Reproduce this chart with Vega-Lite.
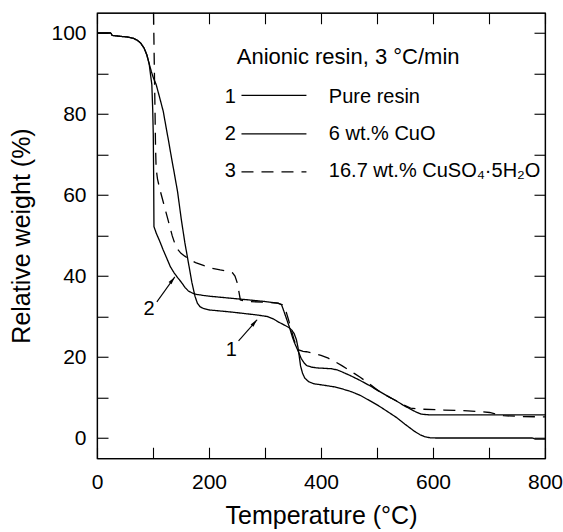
{
  "$schema": "https://vega.github.io/schema/vega-lite/v6.json",
  "width": 448,
  "height": 445.5,
  "autosize": "none",
  "padding": {"left": 97, "top": 12.75, "right": 18, "bottom": 73.75},
  "background": "white",
  "config": {
    "font": "Liberation Sans",
    "view": {"stroke": "black", "strokeWidth": 1.2},
    "axis": {
      "grid": false,
      "domainColor": "black",
      "domainWidth": 1.2,
      "tickColor": "black",
      "tickWidth": 1.1,
      "tickSize": -11,
      "labelColor": "black",
      "titleColor": "black",
      "labelFontSize": 21,
      "titleFontSize": 25,
      "titleFontWeight": "normal",
      "labelFlush": false,
      "labelOverlap": false
    }
  },
  "datasets": {
    "curves": [
      {"series": "1", "t": 0, "w": 100}, {"series": "1", "t": 10, "w": 100}, {"series": "1", "t": 25, "w": 100}, {"series": "1", "t": 27, "w": 99.4}, {"series": "1", "t": 40, "w": 99.2}, {"series": "1", "t": 55, "w": 99.0}, {"series": "1", "t": 65, "w": 98.7}, {"series": "1", "t": 72, "w": 98.2}, {"series": "1", "t": 78, "w": 97.5}, {"series": "1", "t": 84, "w": 96.3}, {"series": "1", "t": 89, "w": 94.6}, {"series": "1", "t": 93, "w": 92.5}, {"series": "1", "t": 97, "w": 90.5}, {"series": "1", "t": 101, "w": 88.8}, {"series": "1", "t": 105.6, "w": 87.3}, {"series": "1", "t": 112, "w": 84}, {"series": "1", "t": 118.4, "w": 80.6}, {"series": "1", "t": 123, "w": 77}, {"series": "1", "t": 128, "w": 73.2}, {"series": "1", "t": 133, "w": 69.2}, {"series": "1", "t": 137.6, "w": 65.7}, {"series": "1", "t": 144, "w": 60.7}, {"series": "1", "t": 150.4, "w": 54.1}, {"series": "1", "t": 156.8, "w": 48.3}, {"series": "1", "t": 163.2, "w": 43.3}, {"series": "1", "t": 169.6, "w": 38.3}, {"series": "1", "t": 175, "w": 35}, {"series": "1", "t": 179.2, "w": 33.3}, {"series": "1", "t": 184, "w": 32.4}, {"series": "1", "t": 190, "w": 32.0}, {"series": "1", "t": 201.6, "w": 31.6}, {"series": "1", "t": 225, "w": 31.3}, {"series": "1", "t": 246.4, "w": 31.0}, {"series": "1", "t": 265, "w": 30.7}, {"series": "1", "t": 284.8, "w": 30.4}, {"series": "1", "t": 304, "w": 30.0}, {"series": "1", "t": 315, "w": 29.4}, {"series": "1", "t": 323.2, "w": 28.7}, {"series": "1", "t": 333, "w": 28.0}, {"series": "1", "t": 342.4, "w": 27.3}, {"series": "1", "t": 348, "w": 26.6}, {"series": "1", "t": 352, "w": 25.8}, {"series": "1", "t": 356, "w": 24.3}, {"series": "1", "t": 359, "w": 22.3}, {"series": "1", "t": 361.5, "w": 19.8}, {"series": "1", "t": 363.5, "w": 17.8}, {"series": "1", "t": 367, "w": 16.0}, {"series": "1", "t": 371, "w": 14.8}, {"series": "1", "t": 378, "w": 13.9}, {"series": "1", "t": 387, "w": 13.4}, {"series": "1", "t": 406.4, "w": 13.0}, {"series": "1", "t": 425, "w": 12.6}, {"series": "1", "t": 438.4, "w": 12.1}, {"series": "1", "t": 455, "w": 11.4}, {"series": "1", "t": 470.4, "w": 10.5}, {"series": "1", "t": 486, "w": 9.3}, {"series": "1", "t": 502.4, "w": 8.0}, {"series": "1", "t": 518, "w": 6.6}, {"series": "1", "t": 534.4, "w": 5.1}, {"series": "1", "t": 550, "w": 3.4}, {"series": "1", "t": 566.4, "w": 1.7}, {"series": "1", "t": 577, "w": 0.8}, {"series": "1", "t": 585.6, "w": 0.3}, {"series": "1", "t": 595, "w": 0.05}, {"series": "1", "t": 604.8, "w": 0}, {"series": "1", "t": 777, "w": 0}, {"series": "1", "t": 784, "w": -0.3}, {"series": "1", "t": 800, "w": -0.3},
      {"series": "2", "t": 0, "w": 100}, {"series": "2", "t": 10, "w": 100}, {"series": "2", "t": 25, "w": 100}, {"series": "2", "t": 27, "w": 99.4}, {"series": "2", "t": 40, "w": 99.2}, {"series": "2", "t": 55, "w": 99.0}, {"series": "2", "t": 65, "w": 98.7}, {"series": "2", "t": 72, "w": 98.2}, {"series": "2", "t": 78, "w": 97.5}, {"series": "2", "t": 84, "w": 96.3}, {"series": "2", "t": 89, "w": 94.6}, {"series": "2", "t": 93, "w": 92.5}, {"series": "2", "t": 95.7, "w": 89.6}, {"series": "2", "t": 97.9, "w": 87.3}, {"series": "2", "t": 99.5, "w": 81}, {"series": "2", "t": 100.5, "w": 74.8}, {"series": "2", "t": 101.2, "w": 64}, {"series": "2", "t": 101.7, "w": 52.2}, {"series": "2", "t": 106, "w": 50.5}, {"series": "2", "t": 112, "w": 48.6}, {"series": "2", "t": 118, "w": 46.5}, {"series": "2", "t": 124.8, "w": 44.3}, {"series": "2", "t": 131, "w": 42.3}, {"series": "2", "t": 137.6, "w": 40.8}, {"series": "2", "t": 144, "w": 39.6}, {"series": "2", "t": 150.4, "w": 38.5}, {"series": "2", "t": 157, "w": 37.2}, {"series": "2", "t": 163.2, "w": 36.3}, {"series": "2", "t": 170, "w": 35.8}, {"series": "2", "t": 176, "w": 35.5}, {"series": "2", "t": 190, "w": 35.2}, {"series": "2", "t": 201.6, "w": 35.0}, {"series": "2", "t": 240, "w": 34.5}, {"series": "2", "t": 278.4, "w": 34.0}, {"series": "2", "t": 300, "w": 33.7}, {"series": "2", "t": 323, "w": 33.3}, {"series": "2", "t": 329.6, "w": 32.9}, {"series": "2", "t": 334, "w": 31.2}, {"series": "2", "t": 339, "w": 29.2}, {"series": "2", "t": 344, "w": 27.2}, {"series": "2", "t": 348.8, "w": 25.0}, {"series": "2", "t": 353, "w": 23.4}, {"series": "2", "t": 358.4, "w": 21.7}, {"series": "2", "t": 364.8, "w": 19.6}, {"series": "2", "t": 370, "w": 18.5}, {"series": "2", "t": 374.4, "w": 17.9}, {"series": "2", "t": 383, "w": 17.5}, {"series": "2", "t": 393.6, "w": 17.3}, {"series": "2", "t": 406, "w": 17.2}, {"series": "2", "t": 419, "w": 17.1}, {"series": "2", "t": 429, "w": 16.8}, {"series": "2", "t": 438, "w": 16.3}, {"series": "2", "t": 454, "w": 15.3}, {"series": "2", "t": 470, "w": 14.2}, {"series": "2", "t": 486, "w": 13.0}, {"series": "2", "t": 502, "w": 11.7}, {"series": "2", "t": 518, "w": 10.4}, {"series": "2", "t": 534, "w": 9.2}, {"series": "2", "t": 547, "w": 8.1}, {"series": "2", "t": 560, "w": 7.1}, {"series": "2", "t": 570, "w": 6.4}, {"series": "2", "t": 579, "w": 5.9}, {"series": "2", "t": 590, "w": 5.75}, {"series": "2", "t": 598, "w": 5.7}, {"series": "2", "t": 800, "w": 5.7},
      {"series": "3", "t": 101, "w": 105}, {"series": "3", "t": 102, "w": 95}, {"series": "3", "t": 103, "w": 86}, {"series": "3", "t": 103.7, "w": 80}, {"series": "3", "t": 104.5, "w": 72}, {"series": "3", "t": 105.6, "w": 66.5}, {"series": "3", "t": 108, "w": 64}, {"series": "3", "t": 112, "w": 61.5}, {"series": "3", "t": 118.4, "w": 58.2}, {"series": "3", "t": 124.8, "w": 54.9}, {"series": "3", "t": 130, "w": 52.2}, {"series": "3", "t": 134.4, "w": 49.9}, {"series": "3", "t": 139, "w": 48}, {"series": "3", "t": 144, "w": 46.6}, {"series": "3", "t": 150, "w": 45.6}, {"series": "3", "t": 156.8, "w": 44.9}, {"series": "3", "t": 165, "w": 44.1}, {"series": "3", "t": 176, "w": 43.3}, {"series": "3", "t": 190, "w": 42.6}, {"series": "3", "t": 201.6, "w": 42}, {"series": "3", "t": 220, "w": 41.5}, {"series": "3", "t": 233.6, "w": 41.2}, {"series": "3", "t": 242, "w": 40.8}, {"series": "3", "t": 246.4, "w": 40}, {"series": "3", "t": 250, "w": 38.5}, {"series": "3", "t": 252.8, "w": 36.6}, {"series": "3", "t": 256, "w": 34.1}, {"series": "3", "t": 262, "w": 33.9}, {"series": "3", "t": 272, "w": 33.7}, {"series": "3", "t": 300, "w": 33.5}, {"series": "3", "t": 323, "w": 33.3}, {"series": "3", "t": 331, "w": 32.9}, {"series": "3", "t": 336, "w": 32.0}, {"series": "3", "t": 339, "w": 30.6}, {"series": "3", "t": 342, "w": 29.2}, {"series": "3", "t": 347, "w": 26.6}, {"series": "3", "t": 352, "w": 24.2}, {"series": "3", "t": 356, "w": 22.8}, {"series": "3", "t": 361.6, "w": 21.7}, {"series": "3", "t": 368, "w": 21.4}, {"series": "3", "t": 374, "w": 21.3}, {"series": "3", "t": 387, "w": 20.9}, {"series": "3", "t": 400, "w": 20.4}, {"series": "3", "t": 413, "w": 19.7}, {"series": "3", "t": 425.6, "w": 18.8}, {"series": "3", "t": 438, "w": 17.8}, {"series": "3", "t": 451, "w": 16.7}, {"series": "3", "t": 460, "w": 15.9}, {"series": "3", "t": 470, "w": 15.0}, {"series": "3", "t": 486, "w": 13.4}, {"series": "3", "t": 502, "w": 11.7}, {"series": "3", "t": 518, "w": 10.4}, {"series": "3", "t": 534, "w": 9.2}, {"series": "3", "t": 547, "w": 8.2}, {"series": "3", "t": 560, "w": 7.4}, {"series": "3", "t": 570, "w": 7.2}, {"series": "3", "t": 582, "w": 7.1}, {"series": "3", "t": 620, "w": 6.9}, {"series": "3", "t": 662, "w": 6.7}, {"series": "3", "t": 685, "w": 6.5}, {"series": "3", "t": 701, "w": 6.3}, {"series": "3", "t": 715, "w": 5.8}, {"series": "3", "t": 726, "w": 5.5}, {"series": "3", "t": 760, "w": 5.3}, {"series": "3", "t": 800, "w": 5.2}
    ],
    "legendLines": [
      {"series": "1", "x1": 258, "x2": 374, "y": 84.6},
      {"series": "2", "x1": 258, "x2": 374, "y": 75.1},
      {"series": "3", "x1": 258, "x2": 374, "y": 65.7}
    ],
    "texts": [
      {"x": 228, "y": 82.7, "label": "1"},
      {"x": 228, "y": 73.6, "label": "2"},
      {"x": 228, "y": 64.5, "label": "3"},
      {"x": 414, "y": 82.7, "label": "Pure resin"},
      {"x": 414, "y": 73.6, "label": "6 wt.% CuO"},
      {"x": 414, "y": 64.5, "label": "16.7 wt.% CuSO₄·5H₂O"},
      {"x": 83, "y": 30.4, "label": "2"},
      {"x": 230, "y": 20.2, "label": "1"}
    ],
    "heading": [
      {"x": 249.6, "y": 92.3, "label": "Anionic resin, 3 °C/min"}
    ],
    "arrows": [
      {"x1": 106.9, "y1": 33.6, "x2": 138.9, "y2": 39.8, "hx": 134.8, "hy": 39.0},
      {"x1": 252.8, "y1": 24.0, "x2": 286, "y2": 29.2, "hx": 281.3, "hy": 28.5}
    ]
  },
  "layer": [
    {
      "data": {"name": "curves"},
      "mark": {"type": "line", "color": "black", "strokeWidth": 1.3},
      "encoding": {
        "x": {"field": "t", "type": "quantitative", "scale": {"domain": [0, 800], "nice": false, "zero": false},
          "axis": {"orient": "bottom", "values": [0, 100, 200, 300, 400, 500, 600, 700, 800], "labelExpr": "datum.value % 200 === 0 ? datum.label : ''", "title": "Temperature (°C)", "labelPadding": 24, "titleY": 65, "titleBaseline": "alphabetic"}},
        "y": {"field": "w", "type": "quantitative", "scale": {"domain": [-5, 105], "nice": false, "zero": false},
          "axis": {"orient": "left", "values": [0, 10, 20, 30, 40, 50, 60, 70, 80, 90, 100], "labelExpr": "datum.value % 20 === 0 ? datum.label : ''", "title": "Relative weight (%)", "labelPadding": 22, "titleX": -68, "titleBaseline": "alphabetic"}},
        "detail": {"field": "series"},
        "strokeDash": {"field": "series", "type": "nominal", "scale": {"domain": ["1", "2", "3"], "range": [[1, 0], [1, 0], [12, 8]]}, "legend": null}
      }
    },
    {
      "data": {"name": "legendLines"},
      "mark": {"type": "rule", "color": "black", "strokeWidth": 1.2},
      "encoding": {
        "x": {"field": "x1", "type": "quantitative", "axis": null},
        "x2": {"field": "x2"},
        "y": {"field": "y", "type": "quantitative", "axis": null},
        "strokeDash": {"field": "series", "type": "nominal", "legend": null}
      }
    },
    {
      "data": {"name": "arrows"},
      "mark": {"type": "rule", "color": "black", "strokeWidth": 1.1},
      "encoding": {
        "x": {"field": "x1", "type": "quantitative", "axis": null},
        "y": {"field": "y1", "type": "quantitative", "axis": null},
        "x2": {"field": "x2"},
        "y2": {"field": "y2"}
      }
    },
    {
      "data": {"name": "arrows"},
      "mark": {"type": "point", "shape": "M0,-1L0.45,1L-0.45,1Z", "filled": true, "color": "black", "opacity": 1, "size": 64, "angle": 38},
      "encoding": {
        "x": {"field": "hx", "type": "quantitative", "axis": null},
        "y": {"field": "hy", "type": "quantitative", "axis": null}
      }
    },
    {
      "data": {"name": "heading"},
      "mark": {"type": "text", "align": "left", "baseline": "alphabetic", "fontSize": 22, "color": "black"},
      "encoding": {
        "x": {"field": "x", "type": "quantitative", "axis": null},
        "y": {"field": "y", "type": "quantitative", "axis": null},
        "text": {"field": "label"}
      }
    },
    {
      "data": {"name": "texts"},
      "mark": {"type": "text", "align": "left", "baseline": "alphabetic", "fontSize": 20, "color": "black"},
      "encoding": {
        "x": {"field": "x", "type": "quantitative",
          "axis": {"orient": "top", "values": [0, 100, 200, 300, 400, 500, 600, 700, 800], "labels": false, "title": null}},
        "y": {"field": "y", "type": "quantitative",
          "axis": {"orient": "right", "values": [0, 10, 20, 30, 40, 50, 60, 70, 80, 90, 100], "labels": false, "title": null}},
        "text": {"field": "label"}
      }
    }
  ],
  "resolve": {"axis": {"x": "independent", "y": "independent"}}
}
